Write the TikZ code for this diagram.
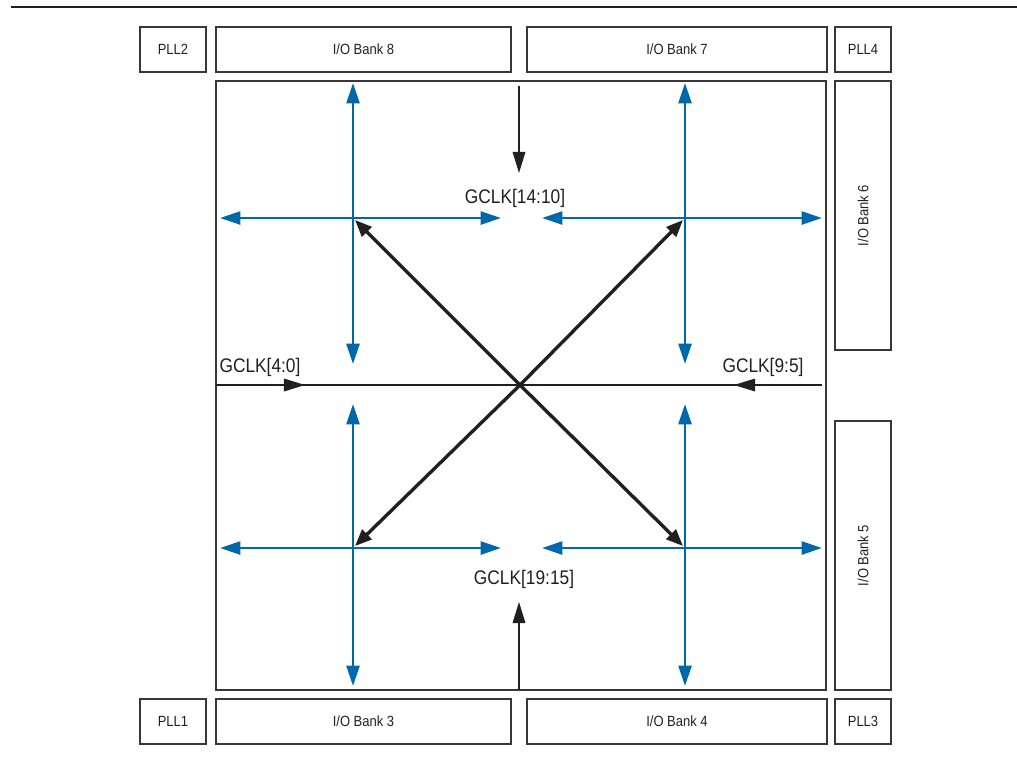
\documentclass[tikz,border=0pt]{standalone}
\usepackage{fontspec}
\setmainfont{Liberation Sans}[FakeStretch=0.88]
\usetikzlibrary{arrows.meta, positioning}
\definecolor{clkblue}{RGB}{0,104,170}
\definecolor{edgegray}{RGB}{55,55,55}
\definecolor{inkblack}{RGB}{35,31,32}

\begin{document}
\begin{tikzpicture}[
  x=0.025cm, y=-0.025cm,
  every node/.style={font=\fontsize{10.5}{12}\selectfont, text=inkblack},
  %% ── Block styles ────────────────────────────────────────────────────────
  blk/.style={
    draw=edgegray, line width=1pt,
    minimum height=1.125cm, inner sep=1pt
  },
  gclk/.style={font=\fontsize{14}{16}\selectfont, inner sep=1pt},
  %% ── Arrow styles ────────────────────────────────────────────────────────
  spine/.style={
    -{Triangle[length=14.5pt, width=9.2pt]}, clkblue, line width=2pt
  },
  diag/.style={
    -{Triangle[length=12pt, width=9.5pt]}, inkblack, line width=2.4pt,
    shorten >=2pt
  },
  feed/.style={
    -{Triangle[length=15pt, width=9pt]}, inkblack, line width=0.9pt
  },
]

\useasboundingbox (0,0) rectangle (1017,759);

%% ═══════════════════════════════════════════════════════════════════════════
%% TOP RULE
%% ═══════════════════════════════════════════════════════════════════════════

\draw[line width=2pt, inkblack] (11,7) -- (1017,7);

%% ═══════════════════════════════════════════════════════════════════════════
%% BLOCKS
%% ═══════════════════════════════════════════════════════════════════════════

%% — Core area ───────────────────────────────────────────────────────────────
\node[draw=edgegray, line width=1pt, minimum width=15.25cm,
      minimum height=15.225cm, inner sep=0pt]
  (core) at (521, 385.5) {};

%% — Top row ─────────────────────────────────────────────────────────────────
\node[blk, minimum width=1.65cm]  (pll2)  at (173, 49.5)   {PLL2};
\node[blk, minimum width=7.375cm] (bank8) at (363.5, 49.5) {I/O Bank 8};
\node[blk, minimum width=7.5cm]   (bank7) at (677, 49.5)   {I/O Bank 7};
\node[blk, minimum width=1.4cm]   (pll4)  at (863, 49.5)   {PLL4};

%% — Bottom row ──────────────────────────────────────────────────────────────
\node[blk, minimum width=1.65cm]  (pll1)  at (173, 721.5)   {PLL1};
\node[blk, minimum width=7.375cm] (bank3) at (363.5, 721.5) {I/O Bank 3};
\node[blk, minimum width=7.5cm]   (bank4) at (677, 721.5)   {I/O Bank 4};
\node[blk, minimum width=1.4cm]   (pll3)  at (863, 721.5)   {PLL3};

%% — Right column ────────────────────────────────────────────────────────────
\node[blk, rotate=90, minimum width=6.725cm, minimum height=1.4cm]
  (bank6) at (863, 215.5) {I/O Bank 6};
\node[blk, rotate=90, minimum width=6.725cm, minimum height=1.4cm]
  (bank5) at (863, 555.5) {I/O Bank 5};

%% ═══════════════════════════════════════════════════════════════════════════
%% CLOCK SPINES
%% ═══════════════════════════════════════════════════════════════════════════

%% — Cross centres and spine ends ────────────────────────────────────────────
\coordinate (tl)  at (353, 218);
\coordinate (tr)  at (685, 218);
\coordinate (bl)  at (353, 548);
\coordinate (br)  at (685, 548);
\coordinate (mid) at (520, 385);

\coordinate (ntop) at (0, 83);
\coordinate (nupp) at (0, 364);
\coordinate (nlow) at (0, 404);
\coordinate (nbot) at (0, 686);
\coordinate (wl) at (220, 0);
\coordinate (wr) at (501, 0);
\coordinate (el) at (542, 0);
\coordinate (er) at (822, 0);

%% — Blue spines ─────────────────────────────────────────────────────────────
\foreach \c in {tl, tr} {
  \draw[spine] (\c) -- (\c |- ntop);
  \draw[spine] (\c) -- (\c |- nupp);
}
\foreach \c in {bl, br} {
  \draw[spine] (\c) -- (\c |- nlow);
  \draw[spine] (\c) -- (\c |- nbot);
}
\foreach \c in {tl, bl} {
  \draw[spine] (\c) -- (wl |- \c);
  \draw[spine] (\c) -- (wr |- \c);
}
\foreach \c in {tr, br} {
  \draw[spine] (\c) -- (el |- \c);
  \draw[spine] (\c) -- (er |- \c);
}

%% — Diagonal feeds from the centre ──────────────────────────────────────────
\foreach \c in {tl, tr, bl, br}
  \draw[diag] (mid) -- (\c);

%% ═══════════════════════════════════════════════════════════════════════════
%% GCLK INPUTS
%% ═══════════════════════════════════════════════════════════════════════════

\node[gclk] (g40)  at (260, 367)   {GCLK[4:0]};
\node[gclk] (g95)  at (763, 367)   {GCLK[9:5]};
\node[gclk] (g1410) at (515, 198)  {GCLK[14:10]};
\node[gclk] (g1915) at (524, 579)  {GCLK[19:15]};

\coordinate (hw)  at (216, 385);
\coordinate (he)  at (822, 385);
\coordinate (hwt) at (305, 385);
\coordinate (het) at (734, 385);
\coordinate (vn)  at (519, 86);
\coordinate (vnt) at (519, 173);
\coordinate (vs)  at (519, 690);
\coordinate (vst) at (519, 602);

\draw[inkblack, line width=0.9pt] (hw) -- (he);
\draw[feed] (hw) -- (hwt);
\draw[feed] (he) -- (het);
\draw[feed] (vn) -- (vnt);
\draw[feed] (vs) -- (vst);

\end{tikzpicture}
\end{document}
